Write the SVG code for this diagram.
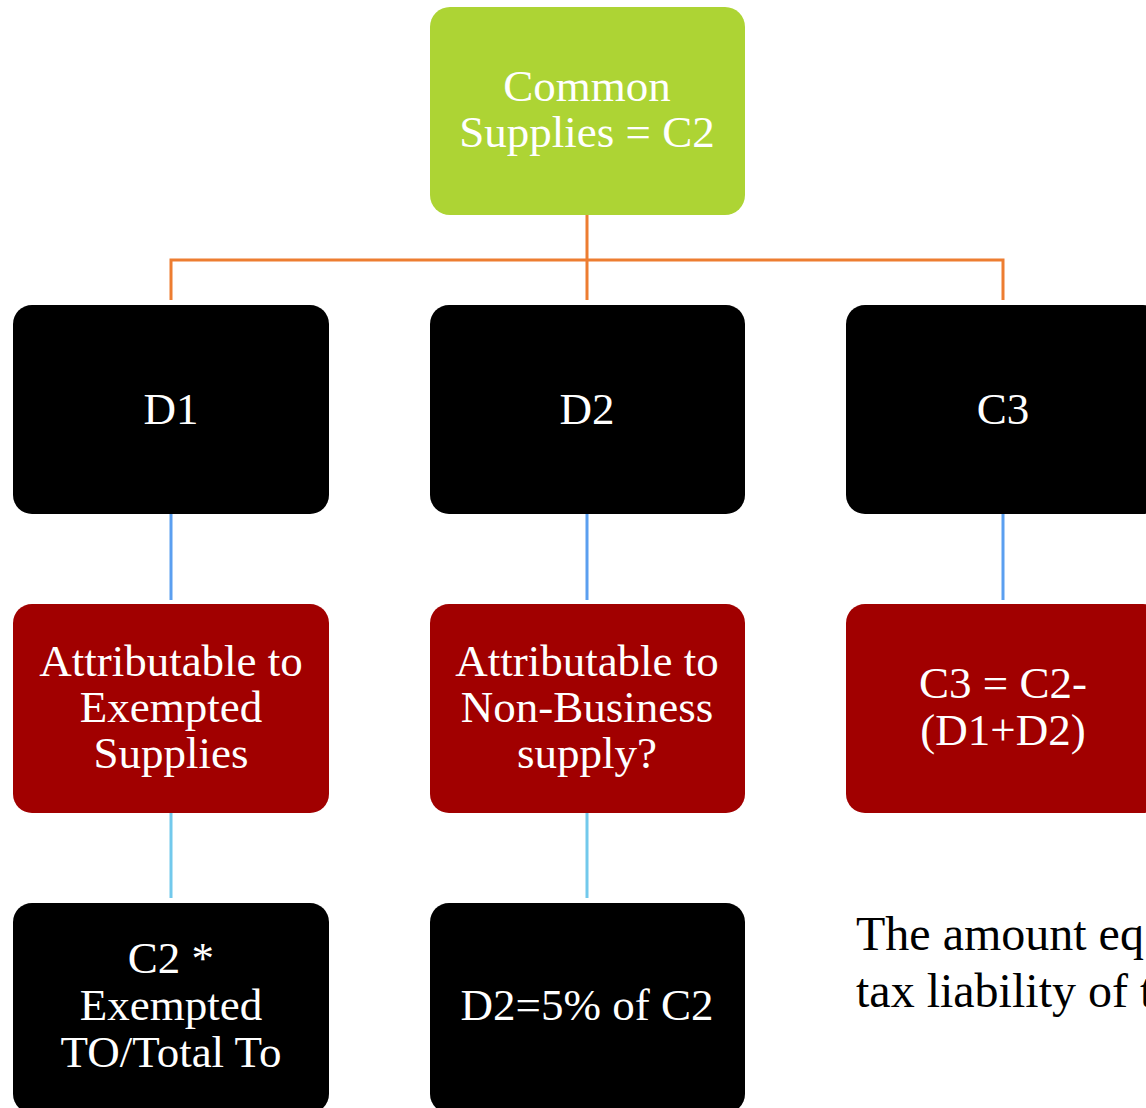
<svg xmlns="http://www.w3.org/2000/svg" width="1146" height="1108" viewBox="0 0 1146 1108">
  <style>
    .lbl { font-family: "Liberation Serif", "Times New Roman", serif; font-size: 45px; fill: #ffffff; text-anchor: middle; }
    .note { font-family: "Liberation Serif", "Times New Roman", serif; font-size: 48px; fill: #000000; }
    .green { fill: #add434; }
    .dark { fill: #000000; }
    .red { fill: #a10000; }
    .c-orange { stroke: #ed7d31; stroke-width: 3; fill: none; }
    .c-blue { stroke: #5b9ff0; stroke-width: 3; fill: none; }
    .c-sky { stroke: #72c9ec; stroke-width: 3; fill: none; }
  </style>
  <rect width="1146" height="1108" fill="#ffffff"/>

  <!-- connectors -->
  <g id="connectors">
    <path class="c-orange" d="M587 215 V300 M171 300 V260 H1003 V300"/>
    <path class="c-blue" d="M171 514 V600 M587 514 V600 M1003 514 V600"/>
    <path class="c-sky" d="M171 813 V898 M587 813 V898"/>
  </g>

  <!-- top node -->
  <g id="node-c2">
    <rect class="green" x="430" y="7" width="315" height="208" rx="20"/>
    <text class="lbl" x="587" y="101">Common</text>
    <text class="lbl" x="587" y="147">Supplies = C2</text>
  </g>

  <!-- second row -->
  <g id="node-d1">
    <rect class="dark" x="13" y="305" width="316" height="209" rx="19"/>
    <text class="lbl" x="171" y="424">D1</text>
  </g>
  <g id="node-d2">
    <rect class="dark" x="430" y="305" width="315" height="209" rx="19"/>
    <text class="lbl" x="587" y="424">D2</text>
  </g>
  <g id="node-c3">
    <rect class="dark" x="846" y="305" width="316" height="209" rx="19"/>
    <text class="lbl" x="1003" y="424">C3</text>
  </g>

  <!-- third row -->
  <g id="node-exempted">
    <rect class="red" x="13" y="604" width="316" height="209" rx="19"/>
    <text class="lbl" x="171" y="676">Attributable to</text>
    <text class="lbl" x="171" y="722">Exempted</text>
    <text class="lbl" x="171" y="768">Supplies</text>
  </g>
  <g id="node-nonbusiness">
    <rect class="red" x="430" y="604" width="315" height="209" rx="19"/>
    <text class="lbl" x="587" y="676">Attributable to</text>
    <text class="lbl" x="587" y="722">Non-Business</text>
    <text class="lbl" x="587" y="768">supply?</text>
  </g>
  <g id="node-c3-formula">
    <rect class="red" x="846" y="604" width="316" height="209" rx="19"/>
    <text class="lbl" x="1003" y="698">C3 = C2-</text>
    <text class="lbl" x="1003" y="745">(D1+D2)</text>
  </g>

  <!-- fourth row -->
  <g id="node-d1-formula">
    <rect class="dark" x="13" y="903" width="316" height="210" rx="19"/>
    <text class="lbl" x="171" y="973">C2 *</text>
    <text class="lbl" x="171" y="1020">Exempted</text>
    <text class="lbl" x="171" y="1067">TO/Total To</text>
  </g>
  <g id="node-d2-formula">
    <rect class="dark" x="430" y="903" width="315" height="210" rx="19"/>
    <text class="lbl" x="587" y="1020">D2=5% of C2</text>
  </g>

  <!-- side note -->
  <g id="note">
    <text class="note" x="856" y="950">The amount eq</text>
    <text class="note" x="856" y="1007">tax liability of t</text>
  </g>
</svg>
